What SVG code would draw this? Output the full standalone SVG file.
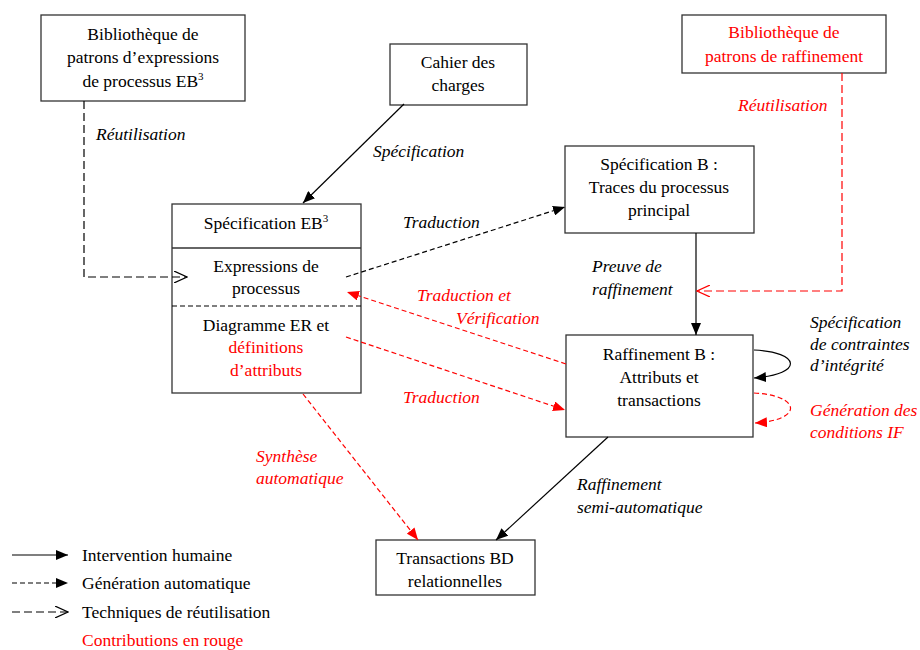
<svg xmlns="http://www.w3.org/2000/svg" width="920" height="650" viewBox="0 0 920 650" font-family="Liberation Serif, Times New Roman, serif">
<style>
text{font-size:17.5px;fill:#000}
.c{text-anchor:middle}
.i{font-style:italic}
.r{fill:#ff0000}
.box{fill:#fff;stroke:#333;stroke-width:1.3}
.sup{font-size:11px}
.solid{fill:none;stroke:#000;stroke-width:1.2}
.dk{fill:none;stroke:#000;stroke-width:1.2;stroke-dasharray:5,3}
.dr{fill:none;stroke:#ff0000;stroke-width:1.2;stroke-dasharray:5,3}
.lk{fill:none;stroke:#000;stroke-width:1.2;stroke-dasharray:8,4}
.lr{fill:none;stroke:#ff0000;stroke-width:1.2;stroke-dasharray:8,4}
</style>
<defs>
<marker id="fk" viewBox="0 0 12 10" refX="12" refY="5" markerWidth="12" markerHeight="10" markerUnits="userSpaceOnUse" orient="auto"><path d="M0,0 L12,5 L0,10 Z" fill="#000"/></marker>
<marker id="fr" viewBox="0 0 12 10" refX="12" refY="5" markerWidth="12" markerHeight="10" markerUnits="userSpaceOnUse" orient="auto"><path d="M0,0 L12,5 L0,10 Z" fill="#ff0000"/></marker>
<marker id="ok" viewBox="0 0 14 12" refX="13" refY="6" markerWidth="14" markerHeight="12" markerUnits="userSpaceOnUse" orient="auto"><path d="M0,0 L13,6 L0,12" fill="none" stroke="#000" stroke-width="1.2"/></marker>
<marker id="or" viewBox="0 0 14 12" refX="13" refY="6" markerWidth="14" markerHeight="12" markerUnits="userSpaceOnUse" orient="auto"><path d="M0,0 L13,6 L0,12" fill="none" stroke="#ff0000" stroke-width="1.2"/></marker>
</defs>

<g id="bib-eb3">
<rect class="box" x="41" y="15" width="204" height="86"/>
<text class="c" x="143" y="40">Bibliothèque de</text>
<text class="c" x="143" y="63">patrons d’expressions</text>
<text class="c" x="143" y="87">de processus EB<tspan class="sup" dy="-7">3</tspan></text>
</g>

<g id="cahier">
<rect class="box" x="390" y="44" width="137" height="61"/>
<text class="c" x="458" y="68">Cahier des</text>
<text class="c" x="458" y="91">charges</text>
</g>

<g id="bib-raff">
<rect class="box" x="682" y="15" width="204" height="58"/>
<text class="c r" x="784" y="38">Bibliothèque de</text>
<text class="c r" x="784" y="62">patrons de raffinement</text>
</g>

<g id="spec-eb3">
<rect class="box" x="172" y="204" width="189" height="189"/>
<line x1="172" y1="248" x2="361" y2="248" stroke="#333" stroke-width="1.3"/>
<line x1="172" y1="306" x2="361" y2="306" stroke="#000" stroke-width="1.2" stroke-dasharray="5,3"/>
<text class="c" x="266" y="229">Spécification EB<tspan class="sup" dy="-7">3</tspan></text>
<text class="c" x="266" y="272">Expressions de</text>
<text class="c" x="266" y="294">processus</text>
<text class="c" x="266" y="331">Diagramme ER et</text>
<text class="c r" x="266" y="353">définitions</text>
<text class="c r" x="266" y="376">d’attributs</text>
</g>

<g id="spec-b">
<rect class="box" x="565" y="146" width="189" height="87"/>
<text class="c" x="659" y="170">Spécification B :</text>
<text class="c" x="659" y="193">Traces du processus</text>
<text class="c" x="659" y="216">principal</text>
</g>

<g id="raff-b">
<rect class="box" x="566" y="335" width="187" height="102"/>
<text class="c" x="659" y="360">Raffinement B :</text>
<text class="c" x="659" y="383">Attributs et</text>
<text class="c" x="659" y="406">transactions</text>
</g>

<g id="transactions">
<rect class="box" x="376" y="540" width="159" height="55"/>
<text class="c" x="455" y="564">Transactions BD</text>
<text class="c" x="455" y="587">relationnelles</text>
</g>

<g id="connectors">
<path class="lk" d="M84,101 V277 H187" marker-end="url(#ok)"/>
<path class="solid" d="M404,104 L303,203" marker-end="url(#fk)"/>
<path class="dk" d="M346,277 L565,207" marker-end="url(#fk)"/>
<path class="dr" d="M566,364 L347,292" marker-end="url(#fr)"/>
<path class="dr" d="M346,337 L565,410" marker-end="url(#fr)"/>
<path class="dr" d="M303,394 L418,540" marker-end="url(#fr)"/>
<path class="solid" d="M608,437 L496,540" marker-end="url(#fk)"/>
<path class="solid" d="M696,233 V335" marker-end="url(#fk)"/>
<path class="lr" d="M842,73 V291 H697" marker-end="url(#or)"/>
<path class="solid" d="M754,350 C800,352 805,374 754,378" marker-end="url(#fk)"/>
<path class="dr" d="M754,393 C800,395 805,420 755,423" marker-end="url(#fr)"/>
<path class="solid" d="M12,555 H68" marker-end="url(#fk)"/>
<path class="dk" d="M12,583 H68" marker-end="url(#fk)"/>
<path class="lk" d="M12,612 H68" marker-end="url(#ok)"/>
</g>

<g id="labels">
<text class="i" x="96" y="140">Réutilisation</text>
<text class="i" x="373" y="157">Spécification</text>
<text class="i" x="403" y="228">Traduction</text>
<text class="i r" x="417" y="301">Traduction et</text>
<text class="i r" x="456" y="324">Vérification</text>
<text class="i r" x="403" y="403">Traduction</text>
<text class="i r" x="256" y="462">Synthèse</text>
<text class="i r" x="256" y="484">automatique</text>
<text class="i" x="577" y="490">Raffinement</text>
<text class="i" x="577" y="513">semi-automatique</text>
<text class="i" x="592" y="272">Preuve de</text>
<text class="i" x="592" y="295">raffinement</text>
<text class="i r" x="738" y="111">Réutilisation</text>
<text class="i" x="810" y="328">Spécification</text>
<text class="i" x="810" y="350">de contraintes</text>
<text class="i" x="810" y="371">d’intégrité</text>
<text class="i r" x="810" y="416">Génération des</text>
<text class="i r" x="810" y="438">conditions IF</text>
</g>

<g id="legend">
<text x="82" y="561">Intervention humaine</text>
<text x="82" y="589">Génération automatique</text>
<text x="82" y="618">Techniques de réutilisation</text>
<text class="r" x="82" y="646">Contributions en rouge</text>
</g>
</svg>
